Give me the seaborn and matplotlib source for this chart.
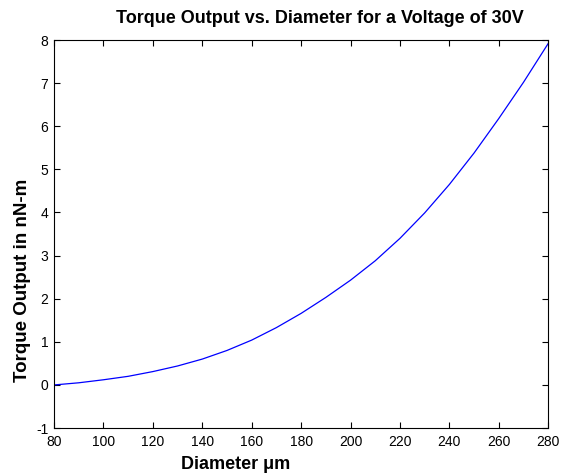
import numpy as np
import pandas as pd
import matplotlib
matplotlib.use("Agg")
import matplotlib.pyplot as plt
import seaborn as sns

# values
diameter = [80, 90, 100, 110, 120, 130, 140, 150, 160, 170, 180,
            190, 200, 210, 220, 230, 240, 250, 260, 270, 280]
torque = [0.00, 0.05, 0.12, 0.20, 0.31, 0.44, 0.60, 0.80, 1.04, 1.33, 1.66,
          2.03, 2.43, 2.88, 3.40, 3.99, 4.65, 5.38, 6.18, 7.02, 7.92]
x_ticks = list(range(80, 281, 20))
y_ticks = list(range(-1, 9))

df = pd.DataFrame({"diameter": diameter, "torque": torque})

sns.set_style("ticks")
plt.rcParams["font.family"] = ["Liberation Sans", "DejaVu Sans"]
plt.rcParams["text.color"] = "black"
plt.rcParams["axes.labelcolor"] = "black"
plt.rcParams["axes.unicode_minus"] = False

fig = plt.figure(figsize=(5.71, 4.73), dpi=100)
ax = fig.add_axes([0.0946, 0.095, 0.8655, 0.8204])

sns.lineplot(data=df, x="diameter", y="torque", ax=ax, color="#0000ff", linewidth=0.9)

ax.set_xlim(80, 280)
ax.set_ylim(-1, 8)
ax.set_xticks(x_ticks)
ax.set_yticks(y_ticks)
ax.tick_params(direction="in", length=4, width=0.8, labelsize=10, colors="black",
               top=True, right=True)
ax.tick_params(axis="x", pad=5)
ax.tick_params(axis="y", pad=4)
for s in ax.spines.values():
    s.set_visible(True)
    s.set_linewidth(0.8)
    s.set_color("black")

ax.set_title("Torque Output vs. Diameter for a Voltage of 30V", fontsize=13,
             fontweight="bold", pad=12, x=0.537, color="black")
ax.set_xlabel("Diameter μm", fontsize=13, fontweight="bold")
ax.set_ylabel("Torque Output in nN-m", fontsize=13.5, fontweight="bold")
# the original puts both axis labels a little off centre
ax.xaxis.set_label_coords(0.368, -0.073)
ax.yaxis.set_label_coords(-0.047, 0.38)

fig.savefig("out.png", dpi=100)
